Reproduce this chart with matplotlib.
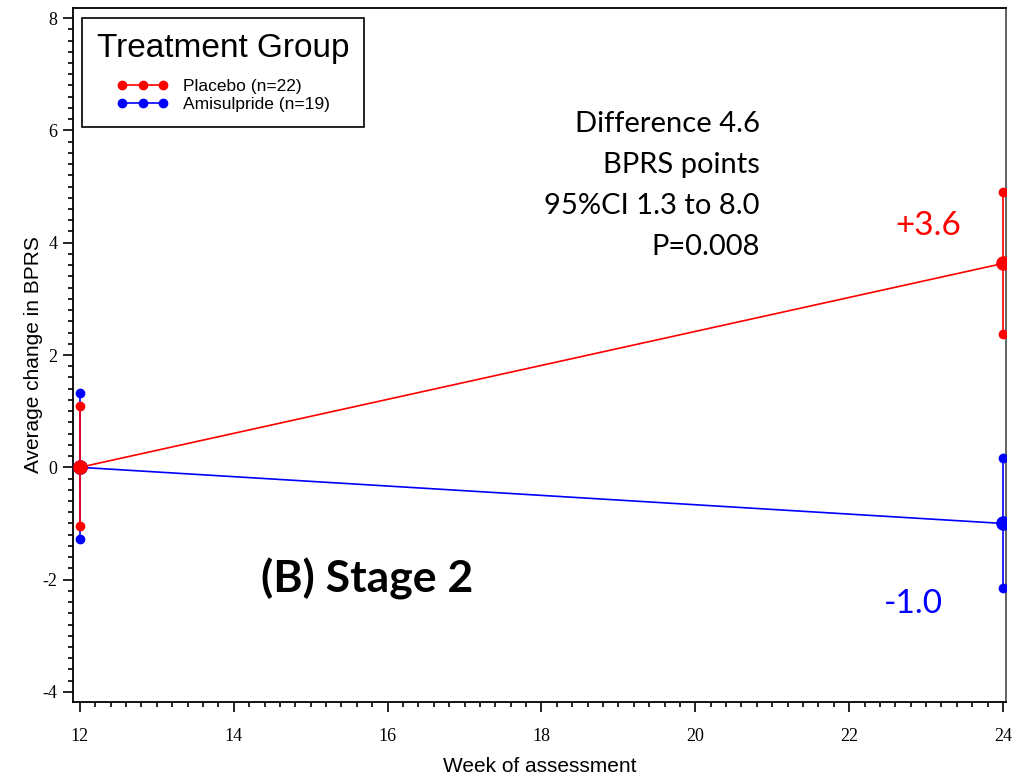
import matplotlib.pyplot as plt
from matplotlib.ticker import MultipleLocator

plt.rcParams['axes.unicode_minus'] = False

# Semaines d'évaluation
weeks = [12, 24]

# Placebo : moyenne et IC 95%
placebo_mean = [0.0, 3.63]
placebo_low = [-1.05, 2.37]
placebo_high = [1.1, 4.9]

# Amisulpride : moyenne et IC 95%
amisul_mean = [0.0, -1.0]
amisul_low = [-1.27, -2.15]
amisul_high = [1.32, 0.17]

labels = ['Placebo (n=22)', 'Amisulpride (n=19)']

fig = plt.figure(figsize=(10.25, 7.77), dpi=100)
ax = fig.add_axes([0.0712, 0.0965, 0.9103, 0.8932])

series = [
    (amisul_mean, amisul_low, amisul_high, 'blue', labels[1]),
    (placebo_mean, placebo_low, placebo_high, 'red', labels[0]),
]

for mean, low, high, col, lab in series:
    # barres d'IC
    for w, lo, hi in zip(weeks, low, high):
        ax.plot([w, w], [lo, hi], color=col, lw=1.2, zorder=2)
        ax.plot([w, w], [lo, hi], 'o', color=col, ms=6, zorder=3)
    ax.plot(weeks, mean, '-', color=col, lw=1.2, zorder=2)
    ax.plot(weeks, mean, 'o', color=col, ms=9.5, zorder=4)

# Poignées de légende
h_pla, = ax.plot([], [], '-o', color='red', ms=6, lw=1.2, label=labels[0])
h_ami, = ax.plot([], [], '-o', color='blue', ms=6, lw=1.2, label=labels[1])
leg = ax.legend(handles=[h_pla, h_ami], loc='upper left', title='Treatment Group',
                numpoints=3, handlelength=3.0, fancybox=False, edgecolor='black',
                framealpha=1, borderpad=0.85, labelspacing=0.15, handletextpad=0.8,
                bbox_to_anchor=(82 / 1025, 1 - 18 / 777), bbox_transform=fig.transFigure,
                borderaxespad=0,
                prop={'family': 'Liberation Sans', 'size': 12.5})
leg.get_title().set_fontfamily('Liberation Sans')
leg.get_title().set_fontsize(24)
leg.get_frame().set_linewidth(1.2)
leg._legend_box.sep = 11

ax.text(20.84, 6.35, 'Difference 4.6\nBPRS points\n95%CI 1.3 to 8.0\nP=0.008',
        ha='right', va='top', multialignment='right', linespacing=1.72,
        fontsize=21, family='Lato')
ax.text(23.03, 4.29, '+3.6', color='red', ha='center', va='center', fontsize=24, family='Lato')
ax.text(22.83, -2.43, '-1.0', color='blue', ha='center', va='center', fontsize=24, family='Lato')
ax.text(15.73, -1.98, '(B) Stage 2', ha='center', va='center', fontsize=32,
        fontweight='bold', family='Lato')

ax.set_xlim(11.91, 24.04)
ax.set_ylim(-4.18, 8.18)
ax.xaxis.set_major_locator(MultipleLocator(2))
ax.xaxis.set_minor_locator(MultipleLocator(0.2))
ax.yaxis.set_major_locator(MultipleLocator(2))
ax.yaxis.set_minor_locator(MultipleLocator(0.2))
ax.tick_params(which='major', direction='out', length=7, width=1.2, labelsize=13, pad=12)
ax.tick_params(which='minor', direction='out', length=3.5, width=1.2)
ax.tick_params(axis='y', pad=4)
for t in ax.get_xticklabels() + ax.get_yticklabels():
    t.set_fontfamily('Liberation Serif')

for s in ax.spines.values():
    s.set_linewidth(1.3)
ax.spines['right'].set_color('#555555')

ax.set_xlabel('Week of assessment', fontsize=15, family='Liberation Sans', labelpad=8)
ax.set_ylabel('Average change in BPRS', fontsize=15, family='Liberation Sans', labelpad=0)

fig.savefig('out.png', dpi=100)
